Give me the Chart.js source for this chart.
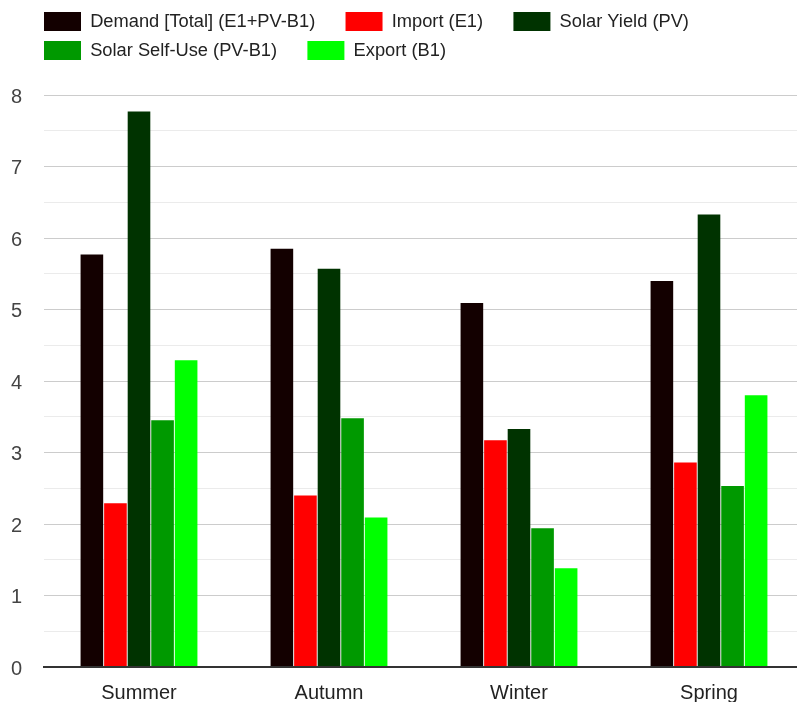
<!DOCTYPE html>
<html>
<head>
<meta charset="utf-8">
<script src="https://cdn.jsdelivr.net/npm/chart.js@4/dist/chart.umd.min.js"></script>
<style>
  html, body { margin: 0; padding: 0; background: #fff; overflow: hidden; }
  #wrap { position: relative; width: 804px; height: 719px; }
</style>
</head>
<body>
<div id="wrap"><canvas id="seasonChart"></canvas></div>
<script>
// values
const seasons = ["Summer", "Autumn", "Winter", "Spring"];
const demandTotal = [5.77, 5.85, 5.09, 5.40];
const importE1 = [2.29, 2.40, 3.17, 2.86];
const solarYield = [7.77, 5.57, 3.33, 6.33];
const solarSelfUse = [3.45, 3.48, 1.94, 2.53];
const exportB1 = [4.29, 2.09, 1.38, 3.80];

const seriesNames = ["Demand [Total] (E1+PV-B1)", "Import (E1)", "Solar Yield (PV)", "Solar Self-Use (PV-B1)", "Export (B1)"];
const seriesColors = ["#130000", "#ff0000", "#003300", "#009900", "#00ff00"];
const yTicks = [0, 1, 2, 3, 4, 5, 6, 7, 8];

const FONT = "Arial, 'Liberation Sans', sans-serif";

function makeDataset(i, data) {
  return {
    label: seriesNames[i],
    data,
    backgroundColor: seriesColors[i],
    borderWidth: 0,
    barPercentage: 0.96,
    categoryPercentage: 0.62,
  };
}

const ctx = document.getElementById("seasonChart");
new Chart(ctx, {
  type: "bar",
  data: {
    labels: seasons,
    datasets: [
      makeDataset(0, demandTotal),
      makeDataset(1, importE1),
      makeDataset(2, solarYield),
      makeDataset(3, solarSelfUse),
      makeDataset(4, exportB1),
    ],
  },
  options: {
    responsive: true,
    maintainAspectRatio: false,
    animation: false,
    layout: { padding: { left: 0, top: 2, right: 0, bottom: 0 } },
    plugins: {
      tooltip: { enabled: false },
      legend: {
        position: "top",
        align: "start",
        labels: {
          boxWidth: 37,
          boxHeight: 19,
          padding: 10,
          color: "#222",
          font: { family: FONT, size: 18.3 },
          generateLabels(chart) {
            // trailing spaces widen each entry to the reference spacing
            return Chart.defaults.plugins.legend.labels.generateLabels(chart).map((item) => {
              item.text = item.text + "    ";
              item.lineWidth = 0;
              return item;
            });
          },
        },
      },
    },
    scales: {
      x: {
        grid: { display: false, drawTicks: false },
        border: { display: true, color: "#333", width: 2 },
        ticks: { color: "#222", padding: 14, font: { family: FONT, size: 20 } },
      },
      y: {
        min: 0,
        max: 8,
        afterFit(scale) { scale.width = 44; },
        border: { display: false },
        grid: {
          drawTicks: false,
          color: (c) => (c.tick.value === 0 ? "#333" : yTicks.includes(c.tick.value) ? "#cccccc" : "#ebebeb"),
          lineWidth: (c) => (c.tick.value === 0 ? 2 : 1),
        },
        ticks: {
          stepSize: 0.5,
          padding: 22,
          labelOffset: 2,
          color: "#444",
          font: { family: FONT, size: 20 },
          callback: (v) => (yTicks.includes(v) ? String(v) : ""),
        },
      },
    },
  },
  plugins: [{
    id: "legendGap",
    beforeInit(chart) {
      const fit = chart.legend.fit;
      chart.legend.fit = function () {
        fit.bind(chart.legend)();
        this.height = 93;
      };
    },
    afterLayout(chart) {
      // line the legend up with the plot's left edge
      chart.legend.left += 34;
      chart.legend.right += 34;
    },
  }],
});
</script>
</body>
</html>
